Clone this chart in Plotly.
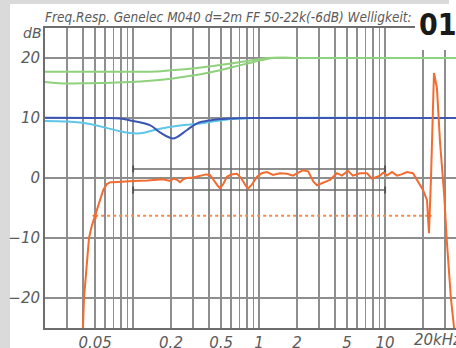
import math
import plotly.graph_objects as go

# ---------------- data ----------------
grid_freqs_hz = [30, 40, 50, 60, 70, 80, 90, 100, 200, 300, 400, 500, 600, 700, 800, 900,
                 1000, 2000, 3000, 4000, 5000, 6000, 7000, 8000, 9000, 10000, 20000, 30000]
tick_label_map = {50: "0.05", 200: "0.2", 500: "0.5", 1000: "1", 2000: "2", 5000: "5", 10000: "10"}
y_ticks_db = [-20, -10, 0, 10, 20]

resp_hz = [40, 40.8, 42.7, 44.7, 47, 50, 53, 56, 58, 62, 66, 70, 80, 100, 130, 173, 196, 210,
           223, 236, 250, 268, 300, 340, 380, 408, 440, 470, 490, 520, 556, 600, 668, 720,
           780, 816, 870, 964, 1050, 1156, 1290, 1466, 1666, 1860, 2050, 2233, 2450, 2535,
           2700, 2883, 3250, 3656, 4152, 4550, 5078, 5560, 6324, 7190, 7870, 8500, 9120,
           9700, 10350, 11350, 12440, 13500, 14930, 16660, 18250, 20000, 21520, 21900,
           22300, 23150, 24000, 24450, 25800, 27300, 29500, 30800, 33300, 35300]
resp_db = [-25, -20, -15, -10, -8, -6.3, -4.5, -3, -2, -1, -0.7, -0.7, -0.6, -0.5, -0.4, -0.2,
           -0.5, -0.1, -0.3, -0.7, -0.2, 0.0, 0.1, 0.3, 0.6, 0.5, -0.5, -1.3, -1.7, -1.0, 0.2,
           0.6, 0.7, 0.0, -1.2, -1.8, -1.2, 0.2, 0.8, 1.0, 0.5, 0.8, 0.7, 0.4, 0.9, 1.3, 1.1,
           0.4, -0.6, -1.2, -0.8, -0.3, 0.8, 0.4, 1.2, 0.4, 0.8, 0.8, -0.1, 0.2, 0.4, 0.9, 0.4,
           1.0, 0.4, 0.6, 1.0, 0.8, -0.7, -2.0, -3.7, -7.0, -9.2, 0.0, 14.7, 17.5, 15.0, 6.0,
           -3.0, -10.0, -20.0, -25.0]

green_hi_hz = [20, 60, 100, 155, 200, 283, 400, 517, 700, 802, 1000, 1156, 2000, 36600]
green_hi_db = [17.7, 17.7, 17.7, 17.75, 17.95, 18.2, 18.6, 18.9, 19.3, 19.5, 19.8, 20.0, 20.0, 20.0]

green_lo_hz = [20, 27.8, 45, 94.6, 136, 207, 386, 621, 895, 1290, 2000, 36600]
green_lo_db = [16.0, 15.75, 15.8, 16.0, 16.2, 16.6, 17.5, 18.5, 19.3, 20.0, 20.0, 20.0]

blue_hz = [20, 60, 78.8, 94.6, 136, 163.6, 196, 210, 223, 268, 322, 408, 588, 895, 36600]
blue_db = [10.05, 10.0, 9.9, 9.6, 8.8, 7.6, 6.7, 6.6, 6.8, 8.0, 9.1, 9.6, 9.9, 10.0, 10.0]

cyan_hz = [20, 30, 45.5, 60, 78.8, 94.6, 113.5, 136, 163.6, 236, 340, 490, 706, 895, 36600]
cyan_db = [9.5, 9.4, 9.0, 8.4, 7.8, 7.5, 7.45, 7.8, 8.2, 8.75, 9.1, 9.6, 9.9, 10.0, 10.0]

tol_hz = [100, 10000]
tol_upper_db = [1.5, 1.5]
tol_lower_db = [-2.0, -2.0]

bw_hz = [50, 22300]
bw_db = [-6.3, -6.3]

title_text = "Freq.Resp. Genelec M040 d=2m FF 50-22k(-6dB) Welligkeit:"

# ---------------- figure ----------------
W, H = 456, 348
ML, MR, MT, MB = 45, 0, 28, 20
PW, PH = W - ML - MR, H - MT - MB


def px(xp):
    return (xp - ML) / PW


def py(yp):
    return (H - MB - yp) / PH


GRID = "#8e8e8e"
TXT = "#5a5a5a"
ORANGE = "#f26b2f"

fig = go.Figure()

fig.add_trace(go.Scatter(x=tol_hz, y=tol_upper_db, mode="lines+markers",
                         line=dict(color="#6a6a6a", width=1.5),
                         marker=dict(symbol="line-ns", size=5, line=dict(color="#555", width=2))))
fig.add_trace(go.Scatter(x=tol_hz, y=tol_lower_db, mode="lines+markers",
                         line=dict(color="#6a6a6a", width=1.5),
                         marker=dict(symbol="line-ns", size=5, line=dict(color="#555", width=2))))

fig.add_trace(go.Scatter(x=green_lo_hz, y=green_lo_db, mode="lines",
                         line=dict(color="#8fd17c", width=2, shape="spline")))
fig.add_trace(go.Scatter(x=green_hi_hz, y=green_hi_db, mode="lines",
                         line=dict(color="#8fd17c", width=2, shape="spline")))
fig.add_trace(go.Scatter(x=cyan_hz, y=cyan_db, mode="lines",
                         line=dict(color="#5fc6e8", width=2, shape="spline")))
fig.add_trace(go.Scatter(x=blue_hz, y=blue_db, mode="lines",
                         line=dict(color="#3b56b4", width=2, shape="spline")))

fig.add_trace(go.Scatter(x=bw_hz, y=bw_db, mode="lines+markers",
                         line=dict(color="#f58a4c", width=2, dash="dot"),
                         marker=dict(symbol=["triangle-left", "triangle-right"], size=6,
                                     color=ORANGE)))
fig.add_trace(go.Scatter(x=resp_hz, y=resp_db, mode="lines",
                         line=dict(color=ORANGE, width=2)))

tickfont = dict(family="DejaVu Sans", size=15, color=TXT, style="italic")

fig.update_xaxes(type="log", range=[math.log10(20), math.log10(36560)],
                 tickvals=grid_freqs_hz,
                 ticktext=[tick_label_map.get(f, "") for f in grid_freqs_hz],
                 showgrid=True, gridcolor=GRID, gridwidth=1.5,
                 showline=True, linecolor="#6e6e6e", linewidth=2, mirror=True,
                 ticks="", zeroline=False, tickfont=tickfont, automargin=False)
fig.update_yaxes(range=[-25, 25], tickvals=y_ticks_db,
                 showgrid=True, gridcolor=GRID, gridwidth=1.5,
                 showline=True, linecolor="#6e6e6e", linewidth=2,
                 ticks="", zeroline=False, tickfont=tickfont, automargin=False)

fig.update_layout(width=W, height=H, margin=dict(l=ML, r=MR, t=MT, b=MB, autoexpand=False),
                  paper_bgcolor="white", plot_bgcolor="white", showlegend=False,
                  shapes=[
                      dict(type="rect", xref="paper", yref="paper", x0=px(0), x1=px(10),
                           y0=py(H), y1=py(0), fillcolor="#dadada", line=dict(width=0), layer="below"),
                      dict(type="rect", xref="paper", yref="paper", x0=px(415), x1=px(W + 5),
                           y0=py(50), y1=py(-5), fillcolor="white", line=dict(width=0), layer="above"),
                      dict(type="rect", xref="paper", yref="paper", x0=px(0), x1=px(449),
                           y0=py(4), y1=py(0), fillcolor="#dadada", line=dict(width=0), layer="above"),
                  ],
                  annotations=[
                      dict(text="<i>" + title_text + "</i>", xref="paper", yref="paper",
                           x=px(43), y=py(17), xanchor="left", yanchor="middle", showarrow=False,
                           font=dict(family="DejaVu Sans Condensed, DejaVu Sans", size=13.5, color=TXT)),
                      dict(text="<i>dB</i>", xref="paper", yref="paper",
                           x=px(44), y=py(33), xanchor="right", yanchor="middle", showarrow=False,
                           font=dict(family="DejaVu Sans", size=14, color=TXT)),
                      dict(text="<b>01</b>", xref="paper", yref="paper",
                           x=px(437.5), y=py(25), xanchor="center", yanchor="middle", showarrow=False,
                           font=dict(family="Liberation Sans Narrow, DejaVu Sans Condensed", size=30,
                                     color="#1a1a1a")),
                      dict(text="<i>20kHz</i>", xref="x", yref="paper",
                           x=math.log10(20000), y=0, xanchor="left", yanchor="top", xshift=-11,
                           yshift=-1, showarrow=False,
                           font=dict(family="DejaVu Sans", size=15, color=TXT)),
                  ])

fig.write_html("out.html",
               config={"displayModeBar": False, "staticPlot": True},
               post_script=("document.body.style.margin='0px';"
                            "document.body.style.padding='0px';"
                            "document.body.style.overflow='hidden';"
                            "document.documentElement.style.overflow='hidden';"))
